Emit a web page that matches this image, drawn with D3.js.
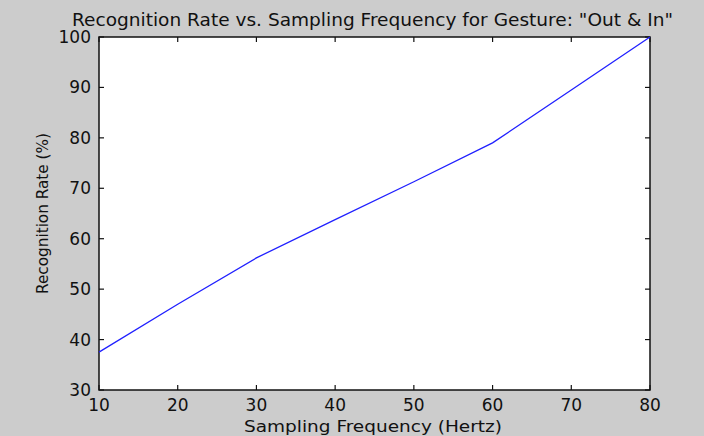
<!DOCTYPE html>
<html>
<head>
<meta charset="utf-8">
<script src="https://cdn.jsdelivr.net/npm/d3@7"></script>
<style>
  html, body { margin: 0; padding: 0; background: #cccccc; }
  svg { display: block; }
  text { font-family: "DejaVu Sans", "Liberation Sans", sans-serif; fill: #111; }
</style>
</head>
<body>
<script>
const frequencies = [10, 20, 30, 40, 50, 60, 70, 80];
const rates = [37.5, 47, 56.2, 63.8, 71.3, 79, 89.5, 100];
const xTicks = [10, 20, 30, 40, 50, 60, 70, 80];
const yTicks = [30, 40, 50, 60, 70, 80, 90, 100];

const width = 704, height = 436;
const margin = { top: 37, right: 54, bottom: 46, left: 99 };

const svg = d3.select('body').append('svg')
  .attr('width', width)
  .attr('height', height);

svg.append('rect')
  .attr('width', width)
  .attr('height', height)
  .attr('fill', '#cccccc');

const x = d3.scaleLinear()
  .domain([10, 80])
  .range([margin.left, width - margin.right]);
const y = d3.scaleLinear()
  .domain([30, 100])
  .range([height - margin.bottom, margin.top]);

// plot box
svg.append('rect')
  .attr('x', x(10))
  .attr('y', y(100))
  .attr('width', x(80) - x(10))
  .attr('height', y(30) - y(100))
  .attr('fill', '#ffffff')
  .attr('stroke', '#111')
  .attr('stroke-width', 1.5);

// inward ticks on all four sides
const tickLen = 5;
const g = svg.append('g').attr('stroke', '#111').attr('stroke-width', 1.2);
xTicks.forEach(t => {
  g.append('line').attr('x1', x(t)).attr('x2', x(t)).attr('y1', y(30)).attr('y2', y(30) - tickLen);
  g.append('line').attr('x1', x(t)).attr('x2', x(t)).attr('y1', y(100)).attr('y2', y(100) + tickLen);
});
yTicks.forEach(t => {
  g.append('line').attr('x1', x(10)).attr('x2', x(10) + tickLen).attr('y1', y(t)).attr('y2', y(t));
  g.append('line').attr('x1', x(80)).attr('x2', x(80) - tickLen).attr('y1', y(t)).attr('y2', y(t));
});

svg.append('g').selectAll('text')
  .data(xTicks)
  .join('text')
  .attr('x', d => x(d))
  .attr('y', y(30) + 21)
  .attr('text-anchor', 'middle')
  .attr('font-size', 17)
  .text(d => d);

svg.append('g').selectAll('text')
  .data(yTicks)
  .join('text')
  .attr('x', x(10) - 8)
  .attr('y', d => y(d) + 6)
  .attr('text-anchor', 'end')
  .attr('font-size', 17)
  .text(d => d);

const line = d3.line()
  .x((d, i) => x(frequencies[i]))
  .y(d => y(d));

svg.append('path')
  .attr('d', line(rates))
  .attr('fill', 'none')
  .attr('stroke', '#2020ff')
  .attr('stroke-width', 1.3);

svg.append('text')
  .attr('x', 372.5)
  .attr('y', 26)
  .attr('text-anchor', 'middle')
  .attr('font-size', 17)
  .attr('textLength', 601)
  .attr('lengthAdjust', 'spacingAndGlyphs')
  .text('Recognition Rate vs. Sampling Frequency for Gesture: "Out & In"');

svg.append('text')
  .attr('x', 373)
  .attr('y', 432)
  .attr('text-anchor', 'middle')
  .attr('font-size', 16)
  .attr('textLength', 258)
  .attr('lengthAdjust', 'spacingAndGlyphs')
  .text('Sampling Frequency (Hertz)');

svg.append('text')
  .attr('transform', 'translate(48,213.5) rotate(-90)')
  .attr('text-anchor', 'middle')
  .attr('font-size', 16)
  .attr('textLength', 161)
  .attr('lengthAdjust', 'spacingAndGlyphs')
  .text('Recognition Rate (%)');
</script>
</body>
</html>
